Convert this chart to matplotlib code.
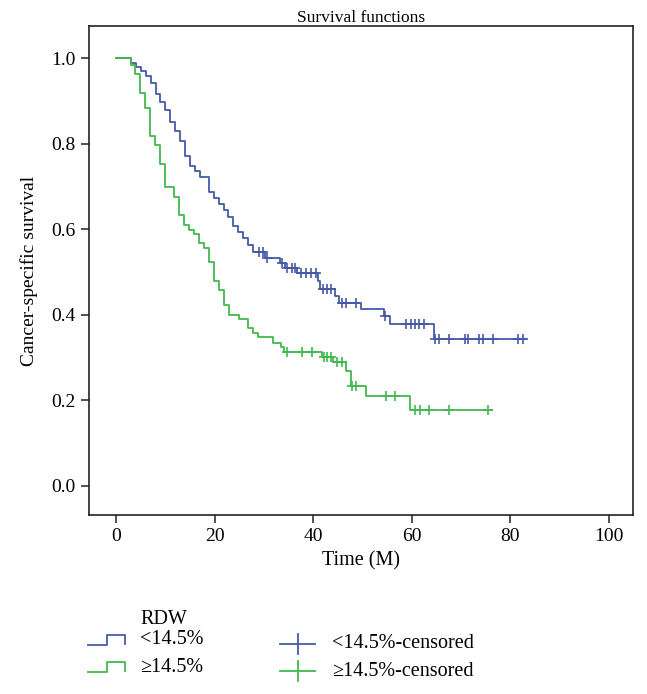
import numpy as np
import matplotlib
matplotlib.use("Agg")
import matplotlib.pyplot as plt
from matplotlib.lines import Line2D

plt.rcParams['font.family'] = ['Liberation Serif', 'DejaVu Serif']

# Kaplan-Meier steps: event time (months) and survival after it
blue_t = [0, 3.0, 4.0, 5.0, 6.0, 7.0, 8.0, 9.0, 10.0, 11.0, 12.0, 13.0, 14.0, 15.0,
          16.0, 17.0, 18.8, 19.8, 20.8, 21.8, 22.8, 23.8, 24.8, 25.8, 26.8, 27.8,
          30.2, 33.3, 34.3, 36.8, 41.0, 41.4, 44.5, 45.2, 49.6, 54.4, 55.6, 64.5]
blue_s = [1.0, 0.989, 0.978, 0.97, 0.958, 0.941, 0.917, 0.898, 0.878, 0.851, 0.83,
          0.807, 0.772, 0.748, 0.735, 0.721, 0.688, 0.673, 0.659, 0.645, 0.629, 0.608,
          0.593, 0.579, 0.562, 0.546, 0.533, 0.52, 0.509, 0.498, 0.478, 0.461, 0.445,
          0.428, 0.413, 0.396, 0.379, 0.344]
blue_cens = [28.9, 29.9, 30.7, 33.6, 34.6, 35.6, 36.4, 37.6, 38.6, 39.6, 40.6, 41.9,
             42.8, 43.7, 45.8, 46.7, 48.7, 54.6, 58.8, 59.8, 60.7, 61.5, 62.5, 64.8,
             65.6, 67.5, 70.8, 71.5, 73.7, 74.5, 76.5, 81.6, 82.5]
blue_end = 83.2

green_t = [0, 3.0, 3.9, 4.9, 5.9, 6.9, 7.9, 8.9, 9.9, 11.8, 12.8, 13.8, 14.8, 15.9,
           16.8, 17.8, 18.9, 19.9, 20.9, 21.9, 22.9, 24.9, 26.7, 27.7, 28.7, 31.8,
           33.4, 34.0, 41.7, 44.1, 46.7, 47.7, 50.7, 59.6]
green_s = [1.0, 0.984, 0.962, 0.918, 0.884, 0.818, 0.797, 0.752, 0.699, 0.676, 0.633,
           0.611, 0.598, 0.589, 0.568, 0.556, 0.523, 0.48, 0.457, 0.424, 0.40, 0.39,
           0.368, 0.357, 0.347, 0.335, 0.325, 0.313, 0.301, 0.29, 0.269, 0.233, 0.21,
           0.177]
green_cens = [34.6, 37.7, 39.7, 42.1, 42.9, 43.7, 44.8, 45.8, 47.9, 48.7, 54.7, 56.6,
              60.6, 61.7, 63.6, 67.6, 75.5]
green_end = 76.2

labels = ["<14.5%", "≥14.5%"]
blue = "#4559a8"
green = "#42b94e"

W, H = 647, 694
fig = plt.figure(figsize=(W / 100, H / 100), dpi=100)
ax = fig.add_axes([89 / W, 1 - 515 / H, 544 / W, 489 / H])


def km(ax, t, s, cens, end, color):
    t = np.array(t)
    s = np.array(s)
    ax.step(np.r_[t, end], np.r_[s, s[-1]], where='post', color=color, lw=1.3)
    idx = np.searchsorted(t, cens, side='right') - 1
    ax.plot(cens, s[idx], linestyle='none', marker='+', ms=7, mew=1.2, color=color)


km(ax, blue_t, blue_s, blue_cens, blue_end, blue)
km(ax, green_t, green_s, green_cens, green_end, green)

ax.set_xlim(-5.5, 104.9)
ax.set_ylim(-0.068, 1.075)
ax.set_xticks([0, 20, 40, 60, 80, 100])
ax.set_yticks([0.0, 0.2, 0.4, 0.6, 0.8, 1.0])
ax.set_yticklabels(["0.0", "0.2", "0.4", "0.6", "0.8", "1.0"])
ax.tick_params(labelsize=14, length=6, width=1.1, color='#222222')
for sp in ax.spines.values():
    sp.set_linewidth(1.2)
    sp.set_color('#222222')
ax.set_xlabel("Time (M)", fontsize=14.5, labelpad=4)
ax.set_ylabel("Cancer-specific survival", fontsize=14, labelpad=10)
ax.set_title("Survival functions", fontsize=12.5, pad=3)


# legend drawn below the axes
def fx(x):
    return x / W


def fy(y):
    return 1 - y / H


fig.text(fx(140), fy(620), "RDW", fontsize=14.5, va='center', ha='left')
rows = [640, 667]
for row, lab, col in zip(rows, labels, [blue, green]):
    xs = [88, 107, 107, 125, 125]
    ys = [row + 5, row + 5, row - 5, row - 5, row + 4]
    fig.add_artist(Line2D([fx(v) for v in xs], [fy(v) for v in ys], color=col, lw=1.3))
    fig.text(fx(140), fy(row), lab, fontsize=14.5, va='center', ha='left')

    r2 = row + 4
    fig.add_artist(Line2D([fx(280), fx(315)], [fy(r2), fy(r2)], color=col, lw=1.3))
    fig.add_artist(Line2D([fx(297.5), fx(297.5)], [fy(r2 - 10), fy(r2 + 10)], color=col, lw=1.3))
    fig.text(fx(332), fy(r2), lab + "-censored", fontsize=14.5, va='center', ha='left')

fig.savefig("out.png", dpi=100)
